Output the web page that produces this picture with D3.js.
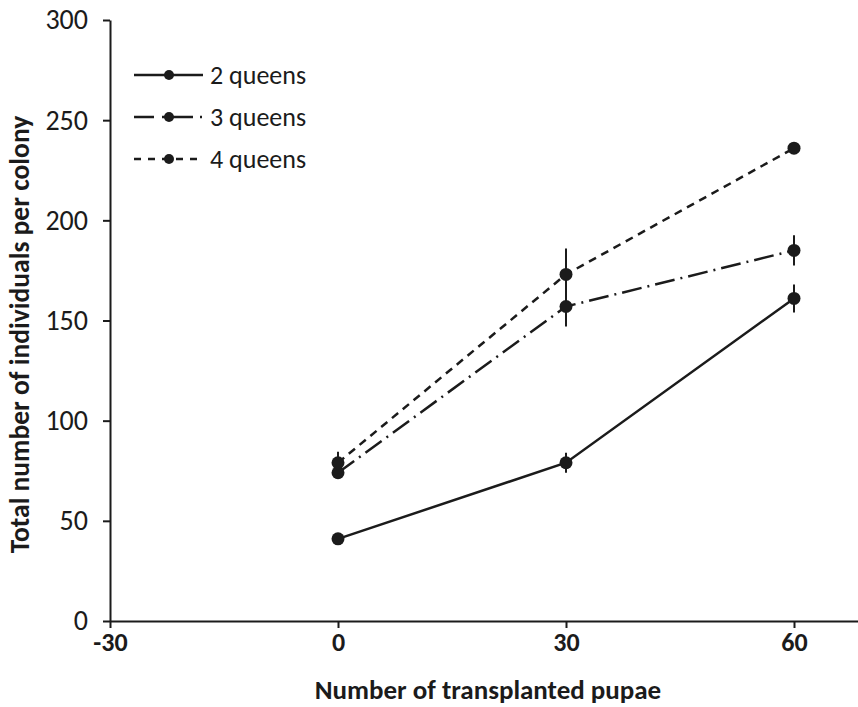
<!DOCTYPE html>
<head>
    <meta charset="utf-8">
    <title>Colony size vs transplanted pupae</title>
    <script src="https://d3js.org/d3.v7.min.js"></script>
</head>
<style>
body {
  margin: 0;
  background: #fff;
}
svg text {
  font-family: Carlito, "Open Sans", "Noto Sans", Arial, sans-serif;
}
</style>
<body>
    <svg></svg>
</body>

<script>

    // Data
    var pupae = [0, 30, 60];
    var seriesNames = ["2 queens", "3 queens", "4 queens"];
    var queens2 = [41, 79, 161];
    var queens3 = [74, 157, 185];
    var queens4 = [79, 173, 236];
    var err2 = [1, 5, 7];
    var err3 = [2, 10, 7.5];
    var err4 = [5.5, 13, 1];
    var xTicks = [-30, 0, 30, 60];
    var yTicks = [0, 50, 100, 150, 200, 250, 300];

    var width = 858;
    var height = 707;
    var ink = "#1b1b1b";

    var svg = d3.select('svg')
        .attr('width', width)
        .attr('height', height);

    var x = d3.scaleLinear().domain([-30, 70]).range([110, 870]);
    var y = d3.scaleLinear().domain([0, 300]).range([621, 20]);

    var series = [
        { name: seriesNames[0], values: queens2, err: err2, dash: null, key: null },
        { name: seriesNames[1], values: queens3, err: err3, dash: "20,6,2,6", key: "20,8,31,7,2,10" },
        { name: seriesNames[2], values: queens4, err: err4, dash: "8,6", key: "7,7" }
    ];

    // y axis
    var yAxis = svg.append('g')
        .attr('transform', 'translate(' + x(-30) + ',0)')
        .call(d3.axisLeft(y).tickValues(yTicks).tickSize(7).tickPadding(15).tickSizeOuter(0)
            .tickFormat(function (d) { return String(d); }));
    yAxis.selectAll('text')
        .style('font-size', '28px')
        .attr('fill', ink);

    // x axis
    var xAxis = svg.append('g')
        .attr('transform', 'translate(0,' + y(0) + ')')
        .call(d3.axisBottom(x).tickValues(xTicks).tickSize(7).tickPadding(5).tickSizeOuter(0)
            .tickFormat(function (d) { return String(d); }));
    xAxis.selectAll('text')
        .style('font-size', '26px')
        .style('font-weight', 'bold')
        .attr('fill', ink);

    svg.selectAll('.domain, .tick line')
        .attr('stroke', ink)
        .attr('stroke-width', 2);

    // axis titles
    svg.append('text')
        .attr('x', 488)
        .attr('y', 699)
        .attr('text-anchor', 'middle')
        .style('font-size', '27px')
        .style('font-weight', 'bold')
        .attr('fill', ink)
        .text('Number of transplanted pupae');

    svg.append('text')
        .attr('transform', 'translate(29,' + y(143) + ')rotate(-90)')
        .attr('text-anchor', 'middle')
        .style('font-size', '27.5px')
        .style('font-weight', 'bold')
        .attr('fill', ink)
        .text('Total number of individuals per colony');

    var line = d3.line()
        .x(function (d, i) { return x(pupae[i]); })
        .y(function (d) { return y(d); });

    var groups = svg.selectAll('.series')
        .data(series)
        .enter().append('g')
        .attr('class', 'series');

    // error bars
    groups.selectAll('.err')
        .data(function (s) { return s.values.map(function (v, i) { return { v: v, e: s.err[i], i: i }; }); })
        .enter().append('line')
        .attr('x1', function (d) { return x(pupae[d.i]); })
        .attr('x2', function (d) { return x(pupae[d.i]); })
        .attr('y1', function (d) { return y(d.v - d.e); })
        .attr('y2', function (d) { return y(d.v + d.e); })
        .attr('stroke', ink)
        .attr('stroke-width', 2);

    groups.append('path')
        .attr('d', function (s) { return line(s.values); })
        .attr('fill', 'none')
        .attr('stroke', ink)
        .attr('stroke-width', 2.5)
        .attr('stroke-dasharray', function (s) { return s.dash; });

    groups.selectAll('circle')
        .data(function (s) { return s.values; })
        .enter().append('circle')
        .attr('cx', function (d, i) { return x(pupae[i]); })
        .attr('cy', function (d) { return y(d); })
        .attr('r', 6.5)
        .attr('fill', ink);

    // legend
    var legend = svg.selectAll('.legend')
        .data(series)
        .enter().append('g')
        .attr('class', 'legend')
        .attr('transform', function (s, i) { return 'translate(134,' + (75 + i * 42) + ')'; });

    legend.append('line')
        .attr('x1', 0)
        .attr('x2', 69)
        .attr('stroke', ink)
        .attr('stroke-width', 2.5)
        .attr('stroke-dasharray', function (s) { return s.key; });

    legend.append('circle')
        .attr('cx', 35)
        .attr('r', 5)
        .attr('fill', ink);

    legend.append('text')
        .attr('x', 76)
        .attr('dy', '0.35em')
        .style('font-size', '26px')
        .attr('fill', ink)
        .text(function (s) { return s.name; });

</script>
